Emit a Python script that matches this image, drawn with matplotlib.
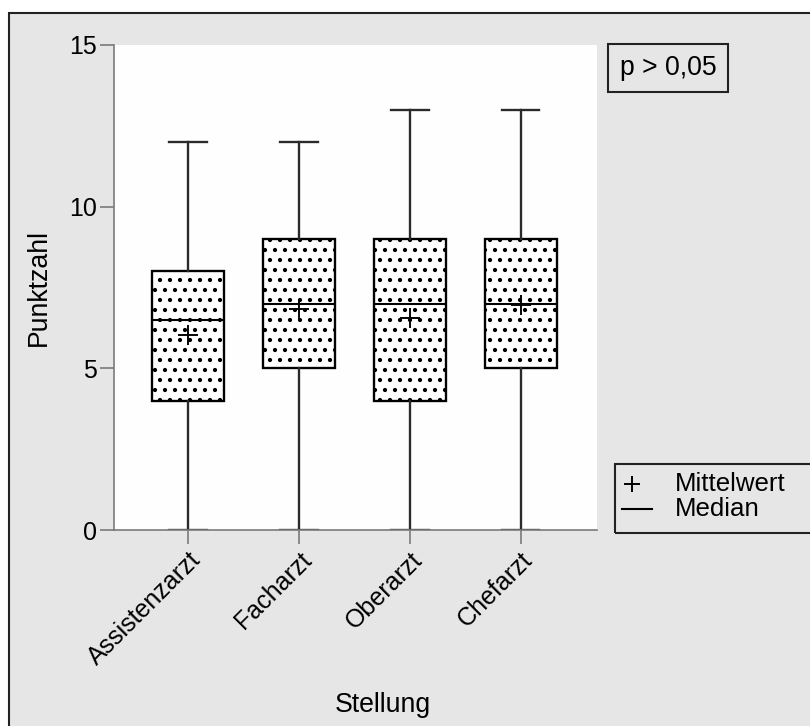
import matplotlib.pyplot as plt
from matplotlib.patches import Rectangle
from matplotlib.lines import Line2D

plt.rcParams['font.family'] = ['Liberation Sans', 'DejaVu Sans']
plt.rcParams['hatch.linewidth'] = 1.3

# Punktzahl je Stellung (Kennwerte der Boxplots)
stellung = ['Assistenzarzt', 'Facharzt', 'Oberarzt', 'Chefarzt']
minimum = [0, 0, 0, 0]
q1 = [4, 5, 4, 5]
median = [6.5, 7, 7, 7]
q3 = [8, 9, 9, 9]
maximum = [12, 12, 13, 13]
mittelwert = [6.03, 6.85, 6.55, 6.95]

stats = []
for i, name in enumerate(stellung):
    stats.append(dict(label=name, whislo=minimum[i], q1=q1[i], med=median[i],
                      q3=q3[i], whishi=maximum[i], mean=mittelwert[i], fliers=[]))

W, H = 810, 726
fig = plt.figure(figsize=(W / 120, H / 120), dpi=120, facecolor='white')

# grauer Rahmen hinter dem Diagramm
fig.patches.append(Rectangle((9 / W, -0.05), 1.0, 1 - 13 / H + 0.05,
                             transform=fig.transFigure, facecolor='#e6e6e6',
                             edgecolor='#222222', linewidth=1.25, zorder=-5))

ax = fig.add_axes([114 / W, 1 - 530 / H, 483 / W, 485 / H])
ax.set_facecolor('#fefefe')

bp = ax.bxp(stats, positions=[1, 2, 3, 4], widths=0.65, capwidths=0.34,
            showmeans=True, patch_artist=True,
            boxprops=dict(facecolor='white', edgecolor='black', linewidth=1.4, hatch='..'),
            whiskerprops=dict(color='#2a2a2a', linewidth=1.4),
            capprops=dict(color='#2a2a2a', linewidth=1.4),
            medianprops=dict(color='black', linewidth=1.25),
            meanprops=dict(marker='+', markeredgecolor='black', markersize=12.5,
                           markeredgewidth=1.15))

ax.set_xlim(0.33, 4.69)
ax.set_ylim(0, 15)
ax.set_yticks([0, 5, 10, 15])
for s in ['top', 'right']:
    ax.spines[s].set_visible(False)
for s in ['left', 'bottom']:
    ax.spines[s].set_color('#7a7a7a')
    ax.spines[s].set_linewidth(1.0)
ax.tick_params(axis='both', colors='#7a7a7a', length=8.5, width=1.0,
               labelcolor='black', labelsize=15, pad=2)
ax.set_xticks([1, 2, 3, 4])
ax.set_xticklabels(stellung, rotation=45, ha='right', rotation_mode='anchor')
ax.set_ylabel('Punktzahl', fontsize=16, labelpad=10)
ax.set_xlabel('Stellung', fontsize=16)
ax.xaxis.set_label_coords(0.557, -0.335)

# p-Wert
fig.text(668 / W, 1 - 68 / H, 'p > 0,05', fontsize=16, ha='center', va='center',
         bbox=dict(boxstyle='square,pad=0.42', facecolor='none', edgecolor='#222222',
                   linewidth=1.25))

# Legende rechts unten
fig.patches.append(Rectangle((615 / W, 1 - 533 / H), 0.3, 69 / H,
                             transform=fig.transFigure, facecolor='none',
                             edgecolor='#222222', linewidth=1.25, zorder=3))
fig.lines.append(Line2D([632 / W], [1 - 484 / H], marker='+', color='black',
                        markersize=10, markeredgewidth=1.15, transform=fig.transFigure))
fig.lines.append(Line2D([622 / W, 652 / W], [1 - 509 / H] * 2, color='black',
                        linewidth=1.25, transform=fig.transFigure))
fig.text(675 / W, 1 - 484 / H, 'Mittelwert', fontsize=15.5, va='center')
fig.text(675 / W, 1 - 509 / H, 'Median', fontsize=15.5, va='center')

fig.savefig('out.png', dpi=120, facecolor='white')
